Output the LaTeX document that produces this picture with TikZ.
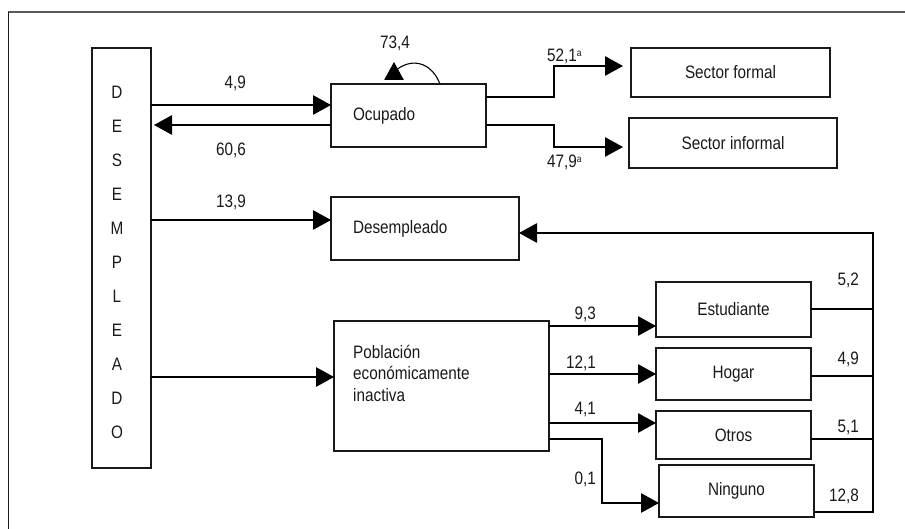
\documentclass[tikz,border=0pt]{standalone}
\usepackage{fontspec}
\setmainfont{Liberation Sans}[FakeStretch=0.85]
\usetikzlibrary{arrows.meta}
\newcommand\supa{\raisebox{5pt}{\fontsize{10}{10}\selectfont a}}
\begin{document}
\begin{tikzpicture}[x=1pt,y=-1pt,
  every node/.style={font=\fontsize{18}{21}\selectfont, text=black!90},
  box/.style={draw=black!90, line width=1.2pt, outer sep=0pt, inner sep=0pt, anchor=north west},
  txt/.style={inner sep=0pt},
  lbl/.style={inner sep=0pt},
  conn/.style={line width=1.1pt, black},
  arr/.style={conn, -{Triangle[length=18pt,width=19.5pt]}}
]
\useasboundingbox (0,0) rectangle (905,529);
\draw[line width=2pt, black!65] (8,12) -- (905,12);
\draw[line width=1.6pt, black!90] (8.5,12) -- (8.5,529);

% boxes
\node[box, minimum width=59pt, minimum height=420pt] (desemp) at (92,48) {};
\node[txt, align=center, font=\fontsize{18}{34}\selectfont] (desemplbl) at (117,262) {D\\E\\S\\E\\M\\P\\L\\E\\A\\D\\O};
\node[box, minimum width=155pt, minimum height=63pt, text width=111pt, align=left] (ocup) at (331,84) {Ocupado};
\node[box, minimum width=188pt, minimum height=63pt, text width=144pt, align=left] (desemplr) at (331,197) {Desempleado};
\node[box, minimum width=199pt, minimum height=49pt] (formal) at (631,48) {Sector formal};
\node[box, minimum width=208pt, minimum height=50pt] (informal) at (629,118) {Sector informal};
\node[box, minimum width=215pt, minimum height=130pt] (pea) at (334,321) {};
\node[txt, anchor=north west, align=left, font=\fontsize{18}{21.5}\selectfont] (peatxt) at (353,345) {Población\\económicamente\\inactiva};
\node[box, minimum width=155pt, minimum height=55pt] (estud) at (656,282) {Estudiante};
\node[box, minimum width=155pt, minimum height=52pt] (hogar) at (656,348) {Hogar};
\node[box, minimum width=155pt, minimum height=48pt] (otros) at (656,411) {Otros};
\node[box, minimum width=155pt, minimum height=52pt] (ning) at (659,465) {Ninguno};

% helper coordinates
\coordinate (yA) at (0,105);
\coordinate (yB) at (0,125);
\coordinate (yC) at (0,220);
\coordinate (yD) at (0,377);
\coordinate (yF) at (0,97);
\coordinate (kf) at (554,66);
\coordinate (ki) at (554,147);
\coordinate (y93) at (0,326);
\coordinate (y121) at (0,374);
\coordinate (y41) at (0,423);
\coordinate (y01) at (0,439);
\coordinate (kn) at (602,503);
\coordinate (kr) at (873,233);
\coordinate (rE) at (0,309);
\coordinate (rH) at (0,376);
\coordinate (rO) at (0,439);
\coordinate (rN) at (0,512);
\coordinate (lp1) at (394,72);
\coordinate (lp2) at (394,62);

% connectors
\draw[arr] (desemp.east |- yA) -- (ocup.west |- yA);
\draw[arr, shorten >=3pt] (ocup.west |- yB) -- (desemp.east |- yB);
\draw[arr] (desemp.east |- yC) -- (desemplr.west |- yC);
\draw[arr] (desemp.east |- yD) -- (pea.west |- yD);
\draw[arr] ([xshift=31.5pt]ocup.north) .. controls (431,61) and (410,57) .. (lp1) -- (lp2);
\draw[arr, shorten >=8pt] (ocup.east |- yF) -| (kf) -- (formal.west |- kf);
\draw[arr, shorten >=6pt] (ocup.east |- yB) -| (ki) -- (informal.west |- ki);
\draw[arr] (pea.east |- y93) -- (estud.west |- y93);
\draw[arr] (pea.east |- y121) -- (hogar.west |- y121);
\draw[arr] (pea.east |- y41) -- (otros.west |- y41);
\draw[arr] (pea.east |- y01) -| (kn) -- (ning.west |- kn);
\draw[conn] (estud.east |- rE) -- (kr |- rE);
\draw[conn] (hogar.east |- rH) -- (kr |- rH);
\draw[conn] (otros.east |- rO) -- (kr |- rO);
\draw[arr] (ning.east |- rN) -| (kr) -- (desemplr.east |- kr);

% labels
\node[lbl, anchor=east] (l49a) at (246,83) {4,9};
\node[lbl, anchor=east] (l606) at (246,150) {60,6};
\node[lbl, anchor=east] (l139) at (246,202) {13,9};
\node[lbl] (l734) at (395,43) {73,4};
\node[lbl, anchor=west] (l521) at (547,56) {52,1\supa};
\node[lbl, anchor=west] (l479) at (547,162) {47,9\supa};
\node[lbl, anchor=east] (l93) at (596,314) {9,3};
\node[lbl, anchor=east] (l121) at (596,363) {12,1};
\node[lbl, anchor=east] (l41) at (596,409) {4,1};
\node[lbl, anchor=east] (l01) at (596,479) {0,1};
\node[lbl, anchor=east] (l52) at (859,280) {5,2};
\node[lbl, anchor=east] (l49b) at (859,359) {4,9};
\node[lbl, anchor=east] (l51) at (859,427) {5,1};
\node[lbl, anchor=east] (l128) at (859,496) {12,8};
\end{tikzpicture}
\end{document}
